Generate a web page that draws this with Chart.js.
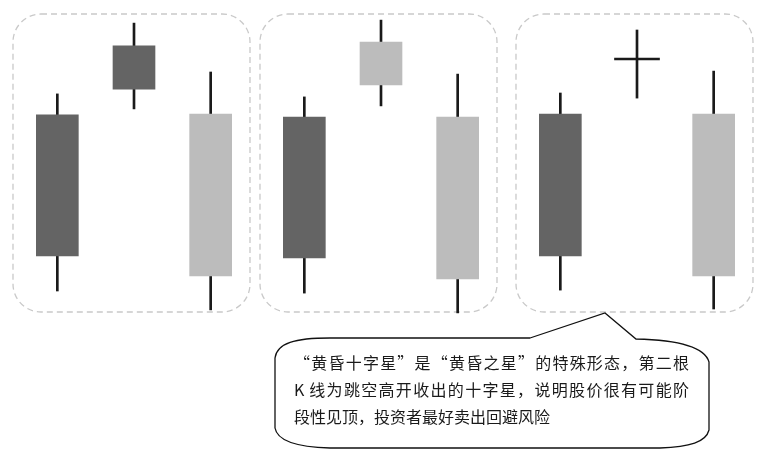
<!DOCTYPE html>
<html>
<head>
<meta charset="utf-8">
<script src="https://cdn.jsdelivr.net/npm/chart.js@4.4.1/dist/chart.umd.min.js"></script>
<style>
  body { margin: 0; background: #fff; width: 765px; height: 455px; position: relative; overflow: hidden; }
  canvas.panel { position: absolute; top: 8px; }
  #p1 { left: 8px; }
  #p2 { left: 255px; }
  #p3 { left: 511px; }
  svg { position: absolute; left: 0; top: 0; }
  .note { position: absolute; left: 294px; top: 349px; width: 395px;
          font-family: "Noto Sans CJK SC", sans-serif; font-size: 16px; color: #1a1a1a; }
  .note div { height: 27px; line-height: 27px; white-space: nowrap; }
  .note .full { text-align: justify; text-align-last: justify; }
</style>
</head>
<body>
<canvas class="panel" id="p1" width="248" height="310"></canvas>
<canvas class="panel" id="p2" width="248" height="310"></canvas>
<canvas class="panel" id="p3" width="248" height="310"></canvas>

<svg width="765" height="455">
  <path d="M 530 338 L 605 313 L 636 339 C 680 340, 705 348, 709 362 L 709 430 C 706 442, 690 447, 660 448 L 330 448 C 295 447, 277 440, 275 428 L 275 358 C 277 343, 295 338, 330 338 Z"
        fill="#fff" stroke="#111" stroke-width="1.3"/>
</svg>
<div class="note">
  <div class="full">“黄昏十字星”是“黄昏之星”的特殊形态，第二根</div>
  <div class="full">K 线为跳空高开收出的十字星，说明股价很有可能阶</div>
  <div>段性见顶，投资者最好卖出回避风险</div>
</div>

<script>
// three candles per panel: up day, star, down day
const candles = ['第一根', '第二根', '第三根'];

// panel 1: evening star
const p1Open = [19.7, 75.3, 67];
const p1Close = [66.7, 89.7, 13];
const p1High = [73.7, 97.3, 81];
const p1Low = [8, 68.7, 1.7];

// panel 2: evening star, star closes lower
const p2Open = [19, 91, 66];
const p2Close = [66, 76.7, 12];
const p2High = [72.7, 98.3, 80.3];
const p2Low = [7.3, 69.7, 0.7];

// panel 3: evening doji star
const p3Open = [19.7, 85.3, 67];
const p3Close = [67, 85.3, 13];
const p3High = [74, 95, 81.3];
const p3Low = [8.3, 72.3, 2];

const upColor = '#646464';
const downColor = '#bcbcbc';
const wickColor = '#1a1a1a';

// dashed rounded frame round each panel
const panelFrame = {
  id: 'panelFrame',
  beforeDatasetsDraw(chart) {
    const a = chart.chartArea;
    const ctx = chart.ctx;
    ctx.save();
    ctx.strokeStyle = '#c9c9c9';
    ctx.lineWidth = 1.3;
    ctx.setLineDash([6, 4]);
    ctx.beginPath();
    ctx.roundRect(a.left - 6, a.top - 1, a.right - a.left + 7, a.bottom - a.top - 2, 28);
    ctx.stroke();
    ctx.restore();
  }
};

function drawPanel(id, open, close, high, low) {
  const bodies = open.map((o, i) => o === close[i] ? null : [Math.min(o, close[i]), Math.max(o, close[i])]);
  const bodyColors = open.map((o, i) => close[i] > o ? upColor : downColor);
  const wicks = high.map((h, i) => [low[i], h]);
  const doji = open.map((o, i) => o === close[i] ? [o - 0.3, o + 0.3] : null);

  new Chart(document.getElementById(id), {
    type: 'bar',
    data: {
      labels: candles,
      datasets: [
        { data: bodies, backgroundColor: bodyColors, barThickness: 42, order: 0 },
        { data: doji, backgroundColor: wickColor, barThickness: 45, order: 0 },
        { data: wicks, backgroundColor: wickColor, barThickness: 2, order: 1 }
      ]
    },
    options: {
      responsive: false,
      animation: false,
      layout: { padding: { left: 11, right: 7, top: 7, bottom: 3 } },
      datasets: { bar: { grouped: false, borderWidth: 0 } },
      plugins: { legend: { display: false }, tooltip: { enabled: false } },
      scales: {
        x: { display: false },
        y: { display: false, min: 0, max: 100 }
      }
    },
    plugins: [panelFrame]
  });
}

drawPanel('p1', p1Open, p1Close, p1High, p1Low);
drawPanel('p2', p2Open, p2Close, p2High, p2Low);
drawPanel('p3', p3Open, p3Close, p3High, p3Low);
</script>
</body>
</html>
